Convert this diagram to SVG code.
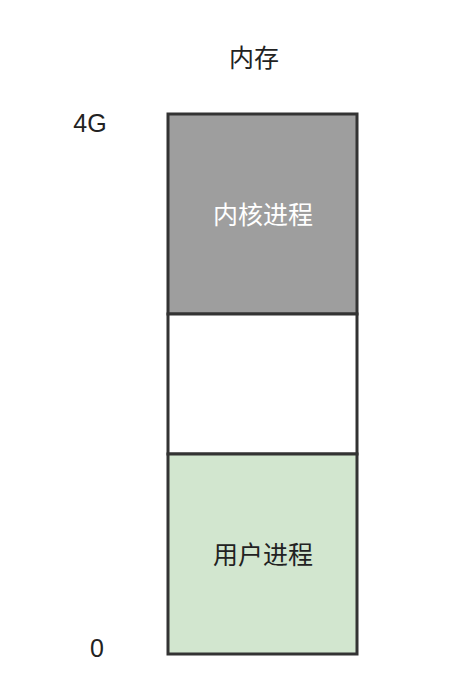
<svg xmlns="http://www.w3.org/2000/svg" width="464" height="688" viewBox="0 0 464 688">
<style>
.t{font-family:"Liberation Sans","Noto Sans CJK SC",sans-serif;font-size:25px;fill:#222;text-anchor:middle}
.box{stroke:#333;stroke-width:3}
</style>
<rect width="464" height="688" fill="#fff"/>
<g id="labels">
<text class="t" x="254" y="67">内存</text>
<text class="t" x="90" y="132">4G</text>
<text class="t" x="97" y="657">0</text>
</g>
<g id="kernel">
<rect class="box" x="168" y="114" width="189" height="200" fill="#9e9e9e"/>
<text class="t" x="263" y="224" style="fill:#fff">内核进程</text>
</g>
<g id="free">
<rect class="box" x="168" y="314" width="189" height="140" fill="#fff"/>
</g>
<g id="user">
<rect class="box" x="168" y="454" width="189" height="200" fill="#d2e6cf"/>
<text class="t" x="263" y="564">用户进程</text>
</g>
<g id="connectors"/>
</svg>
